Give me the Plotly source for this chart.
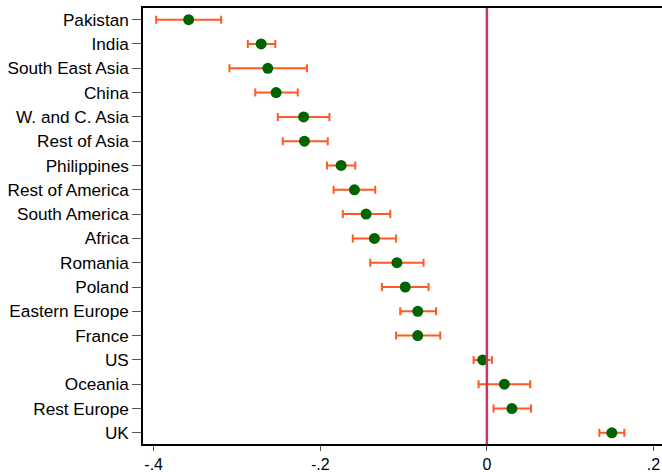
import plotly.graph_objects as go

regions = ["Pakistan", "India", "South East Asia", "China", "W. and C. Asia",
           "Rest of Asia", "Philippines", "Rest of America", "South America",
           "Africa", "Romania", "Poland", "Eastern Europe", "France", "US",
           "Oceania", "Rest Europe", "UK"]
estimate = [-0.358, -0.271, -0.263, -0.253, -0.220, -0.219, -0.175, -0.159,
            -0.145, -0.135, -0.108, -0.098, -0.083, -0.083, -0.005, 0.021,
            0.030, 0.150]
ci_low = [-0.397, -0.287, -0.309, -0.278, -0.251, -0.245, -0.192, -0.184,
          -0.173, -0.161, -0.140, -0.126, -0.104, -0.109, -0.016, -0.010,
          0.008, 0.135]
ci_high = [-0.319, -0.254, -0.216, -0.227, -0.189, -0.191, -0.158, -0.134,
           -0.116, -0.109, -0.076, -0.070, -0.061, -0.056, 0.006, 0.052,
           0.053, 0.165]
x_tickvals = [-0.4, -0.2, 0, 0.2]
x_ticktext = ["-.4", "-.2", "0", ".2"]

plus = [h - e for h, e in zip(ci_high, estimate)]
minus = [e - l for e, l in zip(estimate, ci_low)]

fig = go.Figure()
fig.add_trace(go.Scatter(
    x=estimate, y=regions, mode="markers",
    marker=dict(color="#006400", size=11),
    error_x=dict(type="data", symmetric=False, array=plus, arrayminus=minus,
                 color="#ff5a22", thickness=2, width=4),
    showlegend=False,
))

fig.add_shape(type="line", x0=0, x1=0, xref="x", yref="paper", y0=0, y1=1,
              line=dict(color="#c8385f", width=2.5))

fig.update_layout(
    width=662, height=472,
    margin=dict(l=143, r=0, t=8, b=28),
    paper_bgcolor="white", plot_bgcolor="white",
    font=dict(family="Liberation Sans, Arial, Helvetica, sans-serif",
              size=17.2, color="black"),
    xaxis=dict(range=[-0.4128, 0.2102], tickvals=x_tickvals, ticktext=x_ticktext,
               showgrid=False, zeroline=False, showline=True, linecolor="black",
               linewidth=1.5, mirror=True, ticks="outside", ticklen=5,
               tickcolor="#555555", tickwidth=1.2, automargin=False,
               tickfont=dict(size=16)),
    yaxis=dict(type="category", categoryorder="array", categoryarray=regions,
               range=[17.46, -0.48], showgrid=False, zeroline=False,
               showline=True, linecolor="black", linewidth=1.5,
               ticks="outside", ticklen=9, tickcolor="#555555", tickwidth=1.2,
               automargin=False),
)

fig.write_html("out.html",
               config={"displayModeBar": False},
               post_script="document.body.style.margin='0px';"
                           "document.body.style.overflow='hidden';")
